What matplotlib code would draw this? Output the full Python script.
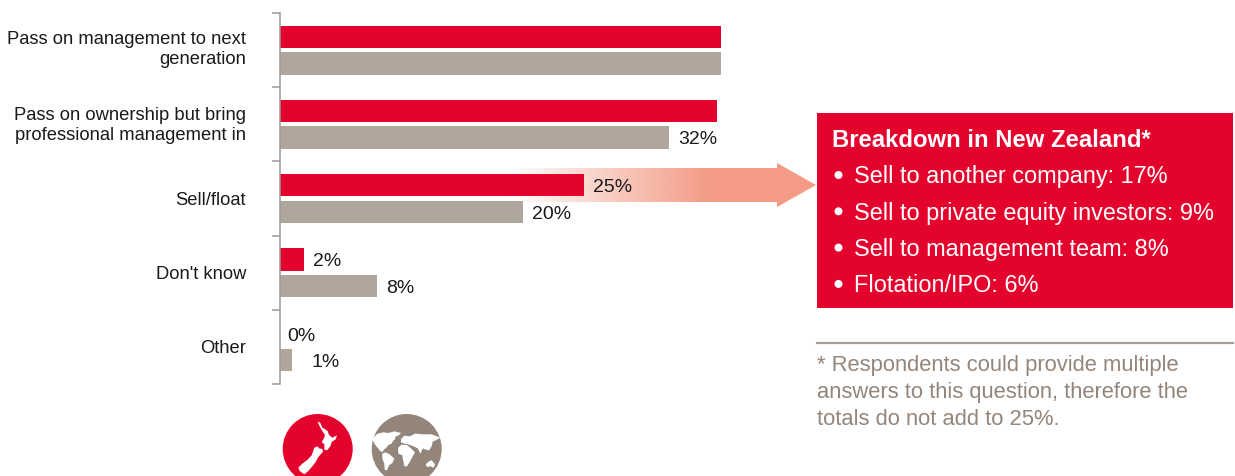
import matplotlib
matplotlib.use("Agg")
import matplotlib.pyplot as plt
import numpy as np
from matplotlib.patches import Circle, Polygon, Rectangle

plt.rcParams['font.family'] = ['Liberation Sans', 'DejaVu Sans']

categories = ["Pass on management to next\ngeneration",
              "Pass on ownership but bring\nprofessional management in",
              "Sell/float", "Don't know", "Other"]
nz_values = [36.3, 36.0, 25, 2, 0]
world_values = [36.3, 32, 20, 8, 1]
nz_labels = ["", "", "25%", "2%", "0%"]
world_labels = ["", "32%", "20%", "8%", "1%"]

breakdown_title = "Breakdown in New Zealand*"
breakdown_items = ["Sell to another company: 17%",
                   "Sell to private equity investors: 9%",
                   "Sell to management team: 8%",
                   "Flotation/IPO: 6%"]
footnote_lines = ["* Respondents could provide multiple",
                  "answers to this question, therefore the",
                  "totals do not add to 25%."]

RED = "#E4032C"
TAUPE = "#B0A69B"
DARK_TAUPE = "#94857A"
SALMON = "#F39B85"
W, H = 1235, 477

fig = plt.figure(figsize=(W / 100, H / 100), dpi=100, facecolor="white")

# pixel-coordinate layer for the arrow, box, footnote and icons
bg = fig.add_axes([0, 0, 1, 1], zorder=1)
bg.axis("off")

# arrow with a fade-in towards the tail
grad = np.zeros((2, 256, 4))
grad[..., :3] = matplotlib.colors.to_rgb(SALMON)
grad[..., 3] = np.linspace(0, 1, 256)
im = bg.imshow(grad, extent=(510, 710, 202, 168), aspect="auto", zorder=1)
bg.add_patch(Polygon([(710, 168), (777, 168), (777, 163), (816, 185), (777, 207),
                      (777, 202), (710, 202)], closed=True, fc=SALMON, ec="none", zorder=1))

# breakdown box
bg.add_patch(Rectangle((817, 113), 416, 195, fc=RED, ec="none", zorder=2))
bg.text(832, 140, breakdown_title, color="white", fontsize=17.2, fontweight="bold",
        va="center", ha="left", zorder=3)
for i, item in enumerate(breakdown_items):
    y = 176 + i * 36.3
    bg.add_patch(Circle((838.5, y - 1), 4, fc="white", ec="none", zorder=3))
    bg.text(854, y, item, color="white", fontsize=16.9, va="center", ha="left", zorder=3)

# footnote
bg.plot([817, 1233], [343.5, 343.5], color="#A99C90", lw=1.6, zorder=2)
for i, line in enumerate(footnote_lines):
    bg.text(817, 365 + i * 27, line, color=DARK_TAUPE, fontsize=15.8,
            va="center", ha="left", zorder=3)

# New Zealand icon
nz_disc = Circle((317.7, 449), 35, fc=RED, ec="none", zorder=2)
bg.add_patch(nz_disc)
north = [(127, 43), (136, 48), (142, 62), (152, 68), (158, 72), (162, 84), (172, 92),
         (186, 85), (182, 97), (170, 105), (166, 118), (156, 130), (148, 128),
         (148, 112), (140, 105), (146, 96), (150, 84), (138, 66)]
south = [(118, 122), (128, 118), (132, 124), (142, 126), (144, 134), (130, 150),
         (122, 165), (112, 178), (100, 192), (88, 202), (74, 192), (70, 182),
         (82, 170), (98, 158), (110, 145)]
for shape in (north, south):
    pts = [(275 + x / 3, 407 + y / 3) for x, y in shape]
    bg.add_patch(Polygon(pts, closed=True, fc="white", ec="none", zorder=3))

# world icon
world_disc = Circle((406.7, 449), 35, fc=DARK_TAUPE, ec="none", zorder=2)
bg.add_patch(world_disc)
continents = [
    [(24, 92), (38, 80), (55, 76), (70, 78), (88, 73), (108, 78), (100, 86), (92, 88),
     (90, 97), (84, 102), (80, 110), (70, 114), (64, 122), (57, 128), (51, 136),
     (44, 130), (36, 120), (28, 110), (24, 100)],
    [(52, 140), (62, 136), (74, 142), (88, 155), (82, 168), (72, 175), (66, 190),
     (59, 188), (58, 170), (52, 155)],
    [(108, 96), (118, 86), (135, 88), (150, 80), (175, 82), (200, 82), (226, 92),
     (212, 100), (203, 104), (200, 118), (192, 130), (182, 128), (174, 124), (166, 140),
     (158, 124), (146, 118), (130, 112), (118, 110), (108, 106)],
    [(99, 122), (110, 113), (126, 114), (136, 122), (150, 136), (142, 150), (136, 162),
     (126, 178), (118, 178), (114, 158), (112, 145), (100, 140)],
    [(182, 172), (192, 163), (200, 160), (210, 172), (206, 182), (196, 178), (186, 180)],
]
for shape in continents:
    pts = [(365 + x / 3, 407 + y / 3) for x, y in shape]
    p = Polygon(pts, closed=True, fc="white", ec="none", zorder=3)
    bg.add_patch(p)
    p.set_clip_path(world_disc)

# one pixel lower than the raw coordinates
bg.set_xlim(0, W)
bg.set_ylim(H - 1, -1)

# bar chart sits above the arrow
px_per_pct = 12.15
left, right = 280, 1235
top, bottom = 14, 385
group_px = (bottom - top) / 5
ax = fig.add_axes([left / W, 1 - bottom / H, (right - left) / W, (bottom - top) / H], zorder=2)
ax.patch.set_alpha(0)
ax.set_xlim(0, (right - left) / px_per_pct)
ax.set_ylim(4.5, -0.5)

pos = np.arange(len(categories))
bar_h = 0.303
ax.barh(pos - 0.179, nz_values, height=bar_h, color=RED)
ax.barh(pos + 0.179, world_values, height=bar_h, color=TAUPE)

for i in pos:
    if nz_labels[i]:
        off = 5.5 if nz_labels[i] == "0%" else 6.5
        ax.annotate(nz_labels[i], (nz_values[i], i - 0.179), xytext=(off, -1),
                    textcoords="offset points", va="center", ha="left",
                    fontsize=14, color="#1a1a1a")
    if world_labels[i]:
        off = 14 if world_labels[i] == "1%" else 6.5
        ax.annotate(world_labels[i], (world_values[i], i + 0.179), xytext=(off, -1),
                    textcoords="offset points", va="center", ha="left",
                    fontsize=14, color="#1a1a1a")

for s in ("top", "right", "bottom"):
    ax.spines[s].set_visible(False)
ax.spines["left"].set_color("#9a9a9a")
ax.spines["left"].set_linewidth(1.1)
ax.xaxis.set_visible(False)

ax.set_yticks(np.arange(-0.5, 5, 1))
ax.set_yticklabels([])
ax.tick_params(axis="y", which="major", length=5.8, width=1.1, color="#9a9a9a")
# labels nudged up a little inside each group
label_nudge = np.array([-5, -3, -1, -1, -1]) / group_px
ax.set_yticks(pos + label_nudge, minor=True)
ax.set_yticklabels(categories, minor=True, fontsize=13.2, color="#1a1a1a", ma="right",
                   linespacing=1.22)
ax.tick_params(axis="y", which="minor", length=0, pad=24.5)

fig.savefig("out.png", dpi=100)
